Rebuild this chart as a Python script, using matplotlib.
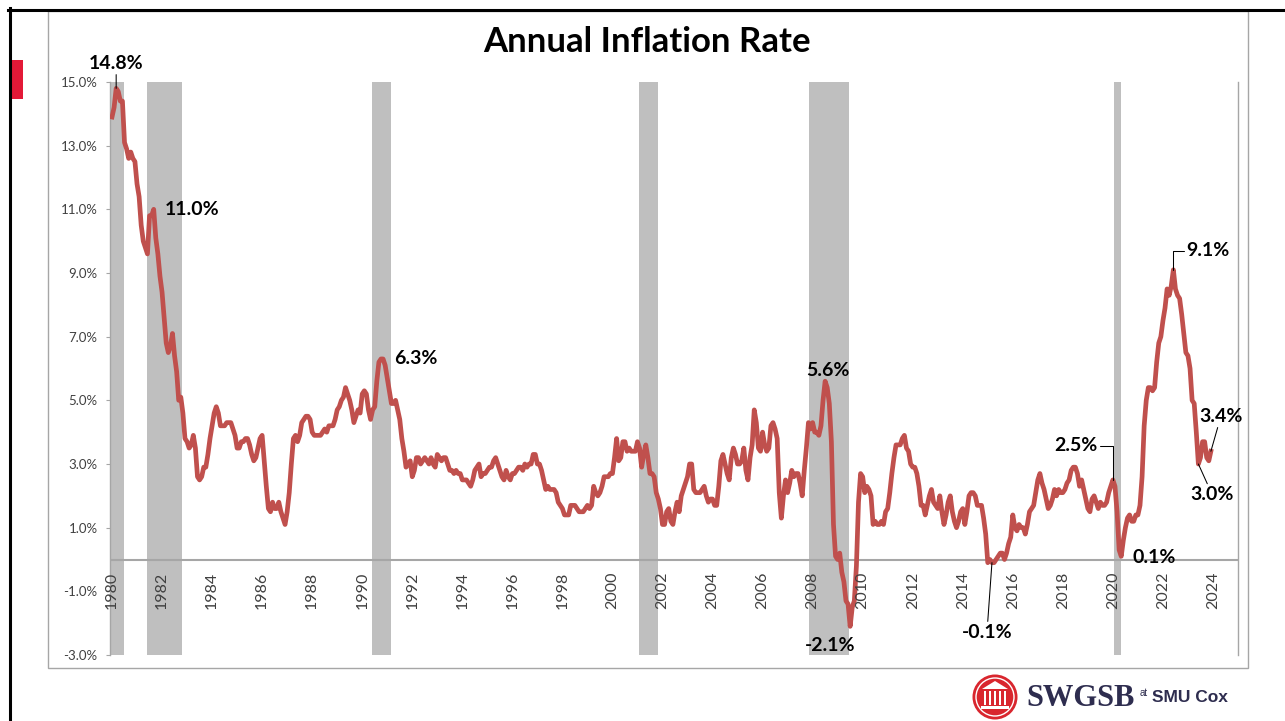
import numpy as np
import matplotlib
matplotlib.use("Agg")
import matplotlib.pyplot as plt
from matplotlib.patches import Rectangle, Circle, Polygon
from matplotlib.lines import Line2D

W, H = 1285, 721

# CPI, year over year %, monthly Jan 1980 .. Dec 2023
inflation = [
    13.9, 14.2, 14.8, 14.7, 14.4, 14.4, 13.1, 12.9, 12.6, 12.8, 12.6, 12.5,  # 1980
    11.8, 11.4, 10.5, 10.0, 9.8, 9.6, 10.8, 10.8, 11.0, 10.1, 9.6, 8.9,      # 1981
    8.4, 7.6, 6.8, 6.5, 6.7, 7.1, 6.4, 5.9, 5.0, 5.1, 4.6, 3.8,              # 1982
    3.7, 3.5, 3.6, 3.9, 3.5, 2.6, 2.5, 2.6, 2.9, 2.9, 3.3, 3.8,              # 1983
    4.2, 4.6, 4.8, 4.6, 4.2, 4.2, 4.2, 4.3, 4.3, 4.3, 4.1, 3.9,              # 1984
    3.5, 3.5, 3.7, 3.7, 3.8, 3.8, 3.6, 3.3, 3.1, 3.2, 3.5, 3.8,              # 1985
    3.9, 3.1, 2.3, 1.6, 1.5, 1.8, 1.6, 1.6, 1.8, 1.5, 1.3, 1.1,              # 1986
    1.5, 2.1, 3.0, 3.8, 3.9, 3.7, 3.9, 4.3, 4.4, 4.5, 4.5, 4.4,              # 1987
    4.0, 3.9, 3.9, 3.9, 3.9, 4.0, 4.1, 4.0, 4.2, 4.2, 4.2, 4.4,              # 1988
    4.7, 4.8, 5.0, 5.1, 5.4, 5.2, 5.0, 4.7, 4.3, 4.5, 4.7, 4.6,              # 1989
    5.2, 5.3, 5.2, 4.7, 4.4, 4.7, 4.8, 5.6, 6.2, 6.3, 6.3, 6.1,              # 1990
    5.7, 5.3, 4.9, 4.9, 5.0, 4.7, 4.4, 3.8, 3.4, 2.9, 3.0, 3.1,              # 1991
    2.6, 2.8, 3.2, 3.2, 3.0, 3.1, 3.2, 3.1, 3.0, 3.2, 3.0, 2.9,              # 1992
    3.3, 3.2, 3.1, 3.2, 3.2, 3.0, 2.8, 2.8, 2.7, 2.8, 2.7, 2.7,              # 1993
    2.5, 2.5, 2.5, 2.4, 2.3, 2.5, 2.8, 2.9, 3.0, 2.6, 2.7, 2.7,              # 1994
    2.8, 2.9, 2.9, 3.1, 3.2, 3.0, 2.8, 2.6, 2.5, 2.8, 2.6, 2.5,              # 1995
    2.7, 2.7, 2.8, 2.9, 2.9, 2.8, 3.0, 2.9, 3.0, 3.0, 3.3, 3.3,              # 1996
    3.0, 3.0, 2.8, 2.5, 2.2, 2.3, 2.2, 2.2, 2.2, 2.1, 1.8, 1.7,              # 1997
    1.6, 1.4, 1.4, 1.4, 1.7, 1.7, 1.7, 1.6, 1.5, 1.5, 1.5, 1.6,              # 1998
    1.7, 1.6, 1.7, 2.3, 2.1, 2.0, 2.1, 2.3, 2.6, 2.6, 2.6, 2.7,              # 1999
    2.7, 3.2, 3.8, 3.1, 3.2, 3.7, 3.7, 3.4, 3.5, 3.4, 3.4, 3.4,              # 2000
    3.7, 3.5, 2.9, 3.3, 3.6, 3.2, 2.7, 2.7, 2.6, 2.1, 1.9, 1.6,              # 2001
    1.1, 1.1, 1.5, 1.6, 1.2, 1.1, 1.5, 1.8, 1.5, 2.0, 2.2, 2.4,              # 2002
    2.6, 3.0, 3.0, 2.2, 2.1, 2.1, 2.1, 2.2, 2.3, 2.0, 1.8, 1.9,              # 2003
    1.9, 1.7, 1.7, 2.3, 3.1, 3.3, 3.0, 2.7, 2.5, 3.2, 3.5, 3.3,              # 2004
    3.0, 3.0, 3.1, 3.5, 2.8, 2.5, 3.2, 3.6, 4.7, 4.3, 3.5, 3.4,              # 2005
    4.0, 3.6, 3.4, 3.5, 4.2, 4.3, 4.1, 3.8, 2.1, 1.3, 2.0, 2.5,              # 2006
    2.1, 2.4, 2.8, 2.6, 2.7, 2.7, 2.4, 2.0, 2.8, 3.5, 4.3, 4.1,              # 2007
    4.3, 4.0, 4.0, 3.9, 4.2, 5.0, 5.6, 5.4, 4.9, 3.7, 1.1, 0.1,              # 2008
    0.0, 0.2, -0.4, -0.7, -1.3, -1.4, -2.1, -1.5, -1.3, -0.2, 1.8, 2.7,      # 2009
    2.6, 2.1, 2.3, 2.2, 2.0, 1.1, 1.2, 1.1, 1.1, 1.2, 1.1, 1.5,              # 2010
    1.6, 2.1, 2.7, 3.2, 3.6, 3.6, 3.6, 3.8, 3.9, 3.5, 3.4, 3.0,              # 2011
    2.9, 2.9, 2.7, 2.3, 1.7, 1.7, 1.4, 1.7, 2.0, 2.2, 1.8, 1.7,              # 2012
    1.6, 2.0, 1.5, 1.1, 1.4, 1.8, 2.0, 1.5, 1.2, 1.0, 1.2, 1.5,              # 2013
    1.6, 1.1, 1.5, 2.0, 2.1, 2.1, 2.0, 1.7, 1.7, 1.7, 1.3, 0.8,              # 2014
    -0.1, 0.0, -0.1, -0.1, 0.0, 0.1, 0.2, 0.2, 0.0, 0.2, 0.5, 0.7,           # 2015
    1.4, 1.0, 0.9, 1.1, 1.0, 1.0, 0.8, 1.1, 1.5, 1.6, 1.7, 2.1,              # 2016
    2.5, 2.7, 2.4, 2.2, 1.9, 1.6, 1.7, 1.9, 2.2, 2.0, 2.2, 2.1,              # 2017
    2.1, 2.2, 2.4, 2.5, 2.8, 2.9, 2.9, 2.7, 2.3, 2.5, 2.2, 1.9,              # 2018
    1.6, 1.5, 1.9, 2.0, 1.8, 1.6, 1.8, 1.7, 1.7, 1.8, 2.1, 2.3,              # 2019
    2.5, 2.3, 1.5, 0.3, 0.1, 0.6, 1.0, 1.3, 1.4, 1.2, 1.2, 1.4,              # 2020
    1.4, 1.7, 2.6, 4.2, 5.0, 5.4, 5.4, 5.3, 5.4, 6.2, 6.8, 7.0,              # 2021
    7.5, 7.9, 8.5, 8.3, 8.6, 9.1, 8.5, 8.3, 8.2, 7.7, 7.1, 6.5,              # 2022
    6.4, 6.0, 5.0, 4.9, 4.0, 3.0, 3.2, 3.7, 3.7, 3.2, 3.1, 3.4,              # 2023
]
start_year = 1980

recession_start = [1979.88, 1981.40, 1990.40, 2001.08, 2007.84, 2020.04]
recession_end = [1980.48, 1982.80, 1991.16, 2001.84, 2009.44, 2020.32]

year_ticks = list(range(1980, 2025, 2))
y_ticks = [-3, -1, 1, 3, 5, 7, 9, 11, 13, 15]

# months that get a value label (year, month)
callout_dates = [(1980, 3), (1981, 9), (1990, 10), (2008, 7), (2009, 7), (2015, 3),
                 (2020, 1), (2020, 5), (2022, 6), (2023, 6), (2023, 12)]

plt.rcParams['font.family'] = ['Lato', 'DejaVu Sans']

fig = plt.figure(figsize=(W / 100, H / 100), dpi=100)

# slide decorations in pixel coordinates
deco = fig.add_axes([0, 0, 1, 1])
deco.set_xlim(0, W)
deco.set_ylim(H, 0)
deco.axis('off')
deco.add_line(Line2D([8, W], [9.5, 9.5], color='black', lw=2.2))
deco.add_line(Line2D([9.5, 9.5], [8, H], color='black', lw=2.2))
deco.add_patch(Rectangle((10.5, 60), 12.5, 39, color='#E31937', lw=0))
deco.add_patch(Rectangle((48, 11), 1200, 657, fill=False, ec='#A6A6A6', lw=1))

# logo
navy = '#2E2D4F'
deco.add_patch(Circle((995, 697), 22.5, color='#D9262E', lw=0))
deco.add_patch(Circle((995, 697), 19, fill=False, ec='white', lw=1))
deco.add_patch(Polygon([(982, 689), (995, 681), (1008, 689)], color='white', lw=0))
for cx in np.linspace(984, 1004, 5):
    deco.add_patch(Rectangle((cx, 691), 2.4, 14, color='white', lw=0))
deco.add_patch(Rectangle((981, 705.5), 28, 3, color='white', lw=0))
deco.text(1026, 698, 'SWGSB', ha='left', va='center', fontsize=22, fontweight='bold',
          family=['Liberation Serif'], color=navy)
deco.text(1140, 693, 'at', ha='left', va='center', fontsize=7, color=navy,
          family=['Liberation Sans'])
deco.text(1152, 697, 'SMU Cox', ha='left', va='center', fontsize=12.5, fontweight='bold',
          family=['Liberation Sans'], color=navy)

fig.text(647 / W, 1 - 42 / H, 'Annual Inflation Rate', ha='center', va='center',
         fontsize=25, fontweight='bold', color='black')

ax = fig.add_axes([110 / W, (H - 655) / H, 1128 / W, 573 / H])
t = start_year + np.arange(len(inflation)) / 12.0

for s, e in zip(recession_start, recession_end):
    ax.axvspan(s, e, color='#BFBFBF', lw=0, zorder=1)
ax.axhline(0, color='#A6A6A6', lw=1.5, zorder=2)
ax.plot(t, inflation, color='#C0504D', lw=3.4, zorder=3, solid_joinstyle='round')

ax.set_xlim(1979.92, 2025.0)
ax.set_ylim(-3, 15)
ax.set_xticks([])
ax.set_yticks(y_ticks)
ax.set_yticklabels([f'{v:.1f}%' for v in y_ticks])
ax.tick_params(axis='y', direction='out', length=3, color='#A6A6A6', labelcolor='#404040',
               labelsize=9.5, pad=6)
for side in ['top', 'bottom']:
    ax.spines[side].set_visible(False)
for side in ['left', 'right']:
    ax.spines[side].set_color('#A6A6A6')
    ax.spines[side].set_linewidth(1)

for yr in year_ticks:
    ax.annotate(str(yr), xy=(yr, 0), xytext=(0, -12), textcoords='offset pixels',
                rotation=90, ha='center', va='top', fontsize=11.5, color='#404040')

# value labels: offset in pixels, alignment, leader line style
callout_style = [
    ((0, 25), 'center', 'straight'),
    ((11, 0), 'left', None),
    ((13, 0), 'left', None),
    ((3, 11), 'center', None),
    ((-20, -19), 'center', None),
    ((-5, -70), 'center', 'straight'),
    ((-37, 34), 'center', 'bracket_r'),
    ((33, -1), 'center', None),
    ((13, 19), 'left', 'bracket_l'),
    ((14, -31), 'center', 'straight'),
    ((10, 35), 'center', 'straight'),
]

for (yr, mo), (off, ha, leader) in zip(callout_dates, callout_style):
    i = (yr - start_year) * 12 + mo - 1
    v = inflation[i]
    props = None
    if leader == 'straight':
        props = dict(arrowstyle='-', color='black', lw=0.75, shrinkA=0, shrinkB=0)
    elif leader == 'bracket_l':
        props = dict(arrowstyle='-', color='black', lw=0.75, shrinkA=0, shrinkB=0,
                     relpos=(0, 0.5), connectionstyle='angle,angleA=0,angleB=90,rad=0')
    elif leader == 'bracket_r':
        props = dict(arrowstyle='-', color='black', lw=0.75, shrinkA=0, shrinkB=0,
                     relpos=(1, 0.5), connectionstyle='angle,angleA=0,angleB=90,rad=0')
    ax.annotate(f'{v:.1f}%', xy=(t[i], v), xytext=off, textcoords='offset pixels',
                ha=ha, va='center', fontsize=14, fontweight='bold', color='black',
                arrowprops=props, zorder=5)

fig.savefig('out.png', dpi=100)
